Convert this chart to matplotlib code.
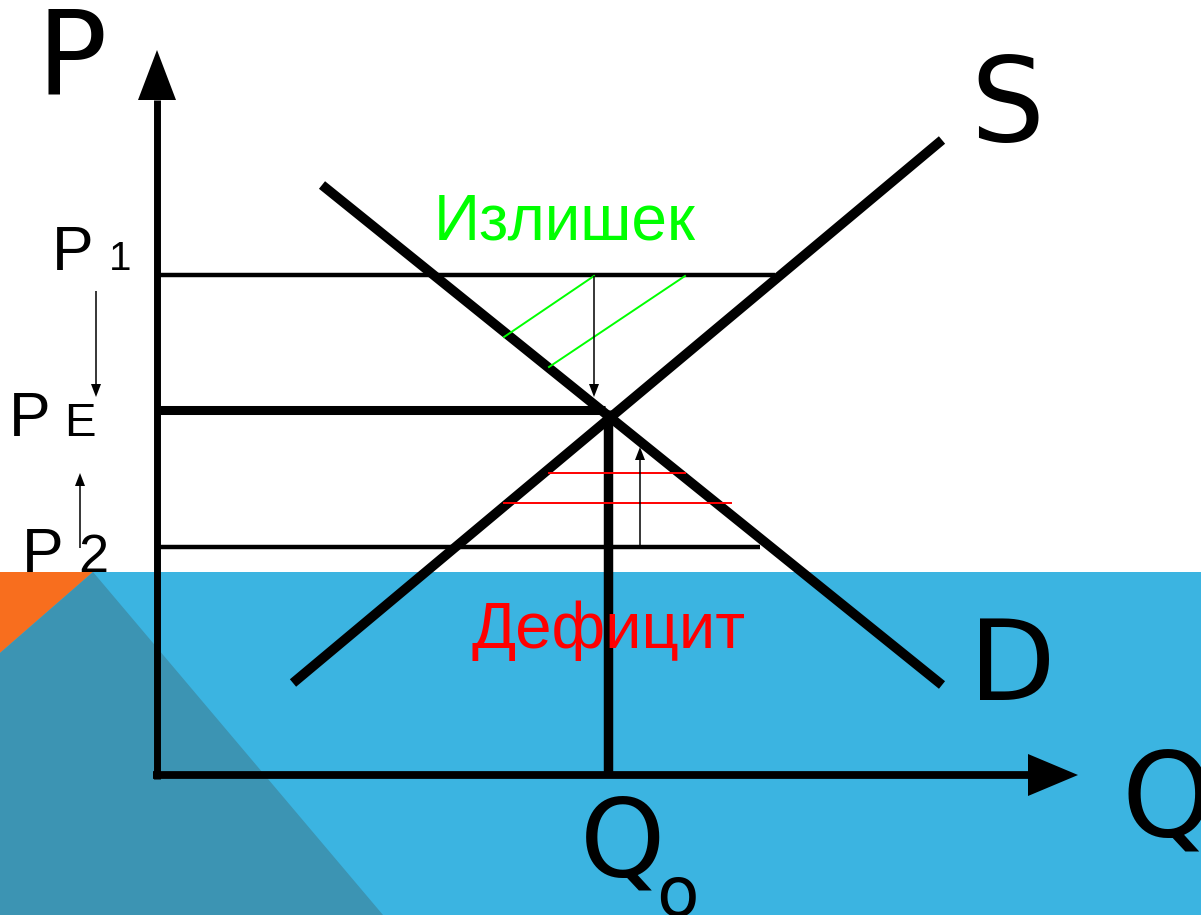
import numpy as np
import matplotlib
matplotlib.use('Agg')
import matplotlib.pyplot as plt

# picture is laid out in pixel units: x to the right, y downward
W, H = 1201, 915

# background shapes (slide decoration)
band_top = 572
orange_x = [0, 93, 0]
orange_y = [572, 572, 653]
shade_x = [93, 383, 0, 0]
shade_y = [572, 915, 915, 653]

# axes
origin = (157, 775)
p_axis_tip = (157, 50)
q_axis_tip = (1078, 775)

# supply and demand curves
demand_x = [322, 942]
demand_y = [185, 685]
supply_x = [293, 942]
supply_y = [683, 140]

# price levels and equilibrium
p1_y, pe_y, p2_y = 275, 410, 547
p1_x = [160, 775]
pe_x = [160, 605]
p2_x = [160, 760]
q0_x = 608
q0_y = [410, 775]

# hatch lines for surplus (green) and shortage (red)
surplus_x = [[504, 594], [549, 685]]
surplus_y = [[337, 276], [367, 276]]
deficit_x = [[549, 685], [504, 731]]
deficit_y = [[473, 473], [503, 503]]

# small arrows: (x, y_start, y_tip)
small_arrows = [(594, 276, 397), (640, 547, 447), (96, 291, 397), (80, 548, 473)]

fig = plt.figure(figsize=(12.01, 9.15), dpi=100)
ax = fig.add_axes([0, 0, 1, 1])
ax.set_xlim(0, W)
ax.set_ylim(H, 0)
ax.axis('off')

blue = '#3bb4e1'
ax.fill([0, W, W, 0], [band_top, band_top, H, H], color=blue, lw=0, zorder=0)
ax.fill(orange_x, orange_y, color='#f86e1e', lw=0, zorder=1)
ax.fill(shade_x, shade_y, color='#3c94b3', lw=0, zorder=1)


def arrow(start, tip, lw, head_len, head_w, color='k'):
    s = np.array(start, float)
    t = np.array(tip, float)
    d = (t - s) / np.hypot(*(t - s))
    n = np.array([-d[1], d[0]])
    base = t - d * head_len
    ax.plot([s[0], base[0]], [s[1], base[1]], color=color, lw=lw,
            solid_capstyle='butt', zorder=3)
    pts = np.array([t, base + n * head_w, base - n * head_w])
    ax.fill(pts[:, 0], pts[:, 1], color=color, lw=0, zorder=3)


# axes with arrow heads
arrow((origin[0], origin[1] + 4), p_axis_tip, 5, 50, 19)
arrow((origin[0] - 4, origin[1]), q_axis_tip, 5.6, 50, 21)

# price lines
ax.plot(p1_x, [p1_y, p1_y], color='k', lw=3.2, solid_capstyle='butt', zorder=2)
ax.plot(p2_x, [p2_y, p2_y], color='k', lw=3.2, solid_capstyle='butt', zorder=2)
ax.plot(pe_x, [pe_y, pe_y], color='k', lw=6.5, solid_capstyle='butt', zorder=2)
ax.plot([q0_x, q0_x], q0_y, color='k', lw=6.8, solid_capstyle='butt', zorder=2)

# curves
ax.plot(demand_x, demand_y, color='k', lw=7, solid_capstyle='butt', zorder=2)
ax.plot(supply_x, supply_y, color='k', lw=7, solid_capstyle='butt', zorder=2)

for xs, ys in zip(surplus_x, surplus_y):
    ax.plot(xs, ys, color='#00ff00', lw=1.4, zorder=2)
for xs, ys in zip(deficit_x, deficit_y):
    ax.plot(xs, ys, color='#ff0000', lw=1.4, zorder=2)

for x, y0, y1 in small_arrows:
    arrow((x, y0), (x, y1), 1.1, 13, 5)

# labels
dv = 'DejaVu Sans'
ar = 'Liberation Sans'
ax.text(36, 94, 'P', fontsize=84, family=dv, va='baseline', zorder=4)
ax.text(970, 141, 'S', fontsize=84, family=dv, va='baseline', zorder=4)
ax.text(969, 700, 'D', fontsize=81, family=dv, va='baseline', zorder=4)
ax.text(1122, 836, 'Q', fontsize=84, family=dv, va='baseline', zorder=4)
ax.text(580, 877, 'Q', fontsize=78, family=dv, va='baseline', zorder=4)
ax.text(656, 916, 'o', fontsize=50, family=dv, va='baseline', zorder=4)

ax.text(52, 270, 'P', fontsize=45, family=ar, va='baseline', zorder=4)
ax.text(109, 270, '1', fontsize=29, family=ar, va='baseline', zorder=4)
ax.text(9, 436, 'P', fontsize=45, family=ar, va='baseline', zorder=4)
ax.text(64, 436, 'E', fontsize=34, family=ar, va='baseline', zorder=4)
ax.text(22, 572, 'P', fontsize=45, family=ar, va='baseline', zorder=4)
ax.text(78, 572, '2', fontsize=39, family=ar, va='baseline', zorder=4)

ax.text(434, 240, 'Излишек', fontsize=46, family=ar, color='#00ff00',
        va='baseline', zorder=4)
ax.text(472, 648, 'Дефицит', fontsize=47, family=ar, color='#ff0000',
        va='baseline', zorder=4)

fig.savefig('out.png', dpi=100)
